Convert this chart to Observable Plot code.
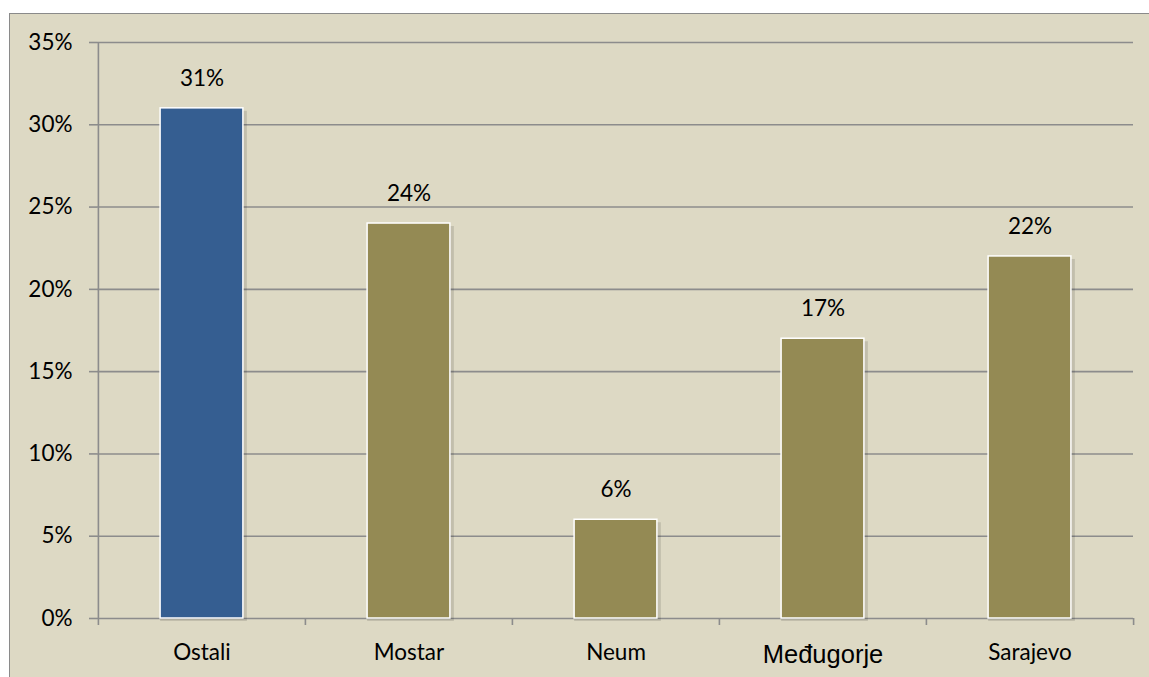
<!DOCTYPE html>
<html>
<head>
<meta charset="utf-8">
<script src="https://cdn.jsdelivr.net/npm/d3@7"></script>
<script src="https://cdn.jsdelivr.net/npm/@observablehq/plot@0.6"></script>
<style>
  html, body { margin: 0; padding: 0; background: #ffffff; width: 1149px; height: 677px; overflow: hidden; }
  #chart { position: absolute; left: 9px; top: 13px; width: 1140px; height: 664px;
           background: #DDD9C4; border-top: 1.5px solid #8a8a8a; border-left: 1.5px solid #8a8a8a; }
  #chart svg { display: block; background: transparent; }
</style>
</head>
<body>
<div id="chart"></div>
<script>
const categories = ["Ostali", "Mostar", "Neum", "Međugorje", "Sarajevo"];
const values = [0.31, 0.24, 0.06, 0.17, 0.22];
const barColors = ["#355E91", "#948A54", "#948A54", "#948A54", "#948A54"];
const yTicks = [0, 0.05, 0.10, 0.15, 0.20, 0.25, 0.30, 0.35];

const data = categories.map((c, i) => ({category: c, value: values[i], color: barColors[i]}));

const W = 1140, H = 664;
const mL = 87, mR = 17, mT = 28, mB = 60;
const step = (W - mL - mR) / categories.length;
const barW = 83;
const inset = (step - barW) / 2;
const FS = 22.5;

const plot = Plot.plot({
  width: W,
  height: H,
  marginLeft: mL,
  marginRight: mR,
  marginTop: mT,
  marginBottom: mB,
  style: {background: "transparent", fontFamily: "Lato, 'Open Sans', sans-serif", fontSize: FS + "px", color: "#000"},
  x: {domain: categories, padding: 0, label: null},
  y: {domain: [0, 0.35], label: null},
  marks: [
    Plot.ruleY(yTicks, {stroke: "#8c8c8c", strokeWidth: 1.6, strokeOpacity: 1}),
    Plot.ruleY(yTicks, {stroke: "#8c8c8c", strokeWidth: 1.6, render: (index, scales, values, dims, context, next) => {
      const g = next(index, scales, values, dims, context);
      d3.select(g).selectAll("line").attr("x1", dims.marginLeft - 8).attr("x2", dims.marginLeft);
      return g;
    }}),
    Plot.ruleX([0], {x: () => categories[0], dx: -step / 2, y1: 0, y2: 0.35, stroke: "#8c8c8c", strokeWidth: 1.6}),
    Plot.ruleX(categories, {x: d => d, dx: -step / 2, y1: 0, y2: 0, insetBottom: -7, stroke: "#8c8c8c", strokeWidth: 1.6}),
    Plot.ruleX([categories[categories.length - 1]], {x: d => d, dx: step / 2, y1: 0, y2: 0, insetBottom: -7, stroke: "#8c8c8c", strokeWidth: 1.6}),
    Plot.barY(data, {x: "category", y: "value", fill: "#000", fillOpacity: 0.12, insetLeft: inset, insetRight: inset - 4, dy: 3}),
    Plot.barY(data, {x: "category", y: "value", fill: "color", stroke: "#ffffff", strokeWidth: 1.5, insetLeft: inset, insetRight: inset}),
    Plot.text(data, {x: "category", y: "value", text: d => Math.round(d.value * 100) + "%", dy: -30, fontSize: FS, fill: "#000"}),
    Plot.axisY({ticks: yTicks, tickFormat: d => Math.round(d * 100) + "%", tickSize: 0, tickPadding: 25, fontSize: FS, fill: "#000", label: null}),
    Plot.axisX({tickSize: 0, tickPadding: 26, fontSize: FS, fill: "#000", label: null,
      render: (index, scales, values, dims, context, next) => {
        const g = next(index, scales, values, dims, context);
        d3.select(g).selectAll("text").filter(function() { return this.textContent === "Međugorje"; })
          .attr("font-family", "'Liberation Sans', Arial, sans-serif").attr("font-size", 25.5);
        return g;
      }})
  ]
});
document.getElementById("chart").appendChild(plot);
</script>
</body>
</html>
